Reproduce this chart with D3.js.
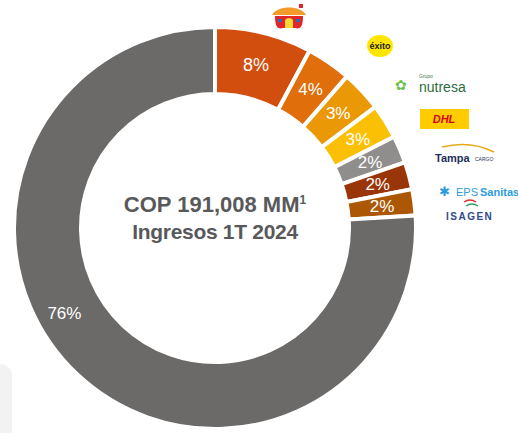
<!DOCTYPE html>
<html>
<head>
<meta charset="utf-8">
<script src="https://cdn.jsdelivr.net/npm/d3@7"></script>
<style>
  body { margin: 0; background: #fff; }
  svg { display: block; font-family: "Liberation Sans", Arial, sans-serif; }
</style>
</head>
<body>
<div id="chart"></div>
<script>
// shares (clockwise from 12 o'clock)
const clients = ["Corona", "Éxito", "Nutresa", "DHL", "Tampa Cargo", "EPS Sanitas", "Isagen", "Otros"];
const shares = [7.8, 3.6, 3.3, 2.8, 2.2, 2.2, 2.1, 76.0];
const labels = ["8%", "4%", "3%", "3%", "2%", "2%", "2%", "76%"];
const colors = ["#D24E0E", "#DF6E0B", "#EB9806", "#FBBF04", "#8F8E8D", "#9A3509", "#AC5704", "#6B6A68"];
const centerLines = ["COP 191,008 MM", "Ingresos 1T 2024"];

const width = 518, height = 433;
const cx = 215, cy = 228;
const outerR = 201, innerR = 134;

const svg = d3.select("#chart").append("svg")
  .attr("width", width)
  .attr("height", height);

// light panel peeking in at bottom left
svg.append("rect")
  .attr("x", -20).attr("y", 364)
  .attr("width", 32).attr("height", 90)
  .attr("rx", 12)
  .style("fill", "#F2F2F2");

const g = svg.append("g").attr("transform", `translate(${cx},${cy})`);

const pie = d3.pie().sort(null).value(d => d);
const arcs = pie(shares);

const arc = d3.arc().innerRadius(innerR).outerRadius(outerR);

g.selectAll("path.slice")
  .data(arcs)
  .enter()
  .append("path")
  .attr("class", "slice")
  .attr("d", arc)
  .style("fill", (d, i) => colors[i])
  .style("stroke", "#fff")
  .style("stroke-width", 4);

// labels at the middle of the ring; the big slice label sits lower-left
const labelArc = d3.arc().innerRadius(innerR + 4).outerRadius(outerR - 2);
g.selectAll("text.pct")
  .data(arcs)
  .enter()
  .append("text")
  .attr("class", "pct")
  .attr("transform", (d, i) => {
    let p;
    if (i === arcs.length - 1) {
      const a = 240.5 * Math.PI / 180;
      p = [Math.sin(a) * 173, -Math.cos(a) * 173];
    } else {
      p = labelArc.centroid(d);
    }
    return `translate(${p[0]},${p[1]})`;
  })
  .attr("text-anchor", "middle")
  .attr("dy", "0.36em")
  .style("fill", "#fff")
  .style("font-size", (d, i) => i === 0 ? "18px" : "17px")
  .text((d, i) => labels[i]);

// center text
const ct = g.append("text")
  .attr("text-anchor", "middle")
  .style("fill", "#58595B")
  .style("font-weight", "bold");
ct.append("tspan").attr("x", 0).attr("y", -16).style("font-size", "22px").text(centerLines[0])
  .append("tspan").attr("dy", -8).style("font-size", "12px").text("1");
ct.append("tspan").attr("x", 0).attr("y", 11).style("font-size", "21px")
  .style("letter-spacing", "-0.3px").text(centerLines[1]);

// client logos (simplified) along the right side
const logos = svg.append("g");

// house
const house = logos.append("g").attr("transform", "translate(289,17)");
house.append("path")
  .attr("d", "M-14,-1 C-14,12 -10,12 -6,11 L6,11 C10,12 14,12 14,-1 Z")
  .style("fill", "#E0262B");
house.append("path")
  .attr("d", "M-17,-2 C-12,-12 12,-12 17,-2 Z")
  .style("fill", "#F39A2B");
house.append("rect").attr("x", 10).attr("y", -13).attr("width", 4).attr("height", 4).style("fill", "#E0262B");
house.append("path").attr("d", "M-4,11 L-4,4 C-4,0 4,0 4,4 L4,11 Z").style("fill", "#FDD835");
house.append("rect").attr("x", -11).attr("y", 2).attr("width", 4).attr("height", 3).style("fill", "#2A6FB5");
house.append("rect").attr("x", 7).attr("y", 2).attr("width", 4).attr("height", 3).style("fill", "#2A6FB5");

// éxito
logos.append("ellipse").attr("cx", 380).attr("cy", 46).attr("rx", 13).attr("ry", 11).style("fill", "#FFE500");
logos.append("text").attr("x", 380).attr("y", 49).attr("text-anchor", "middle")
  .style("font-size", "9px").style("font-weight", "bold").style("fill", "#222").text("éxito");

// nutresa
logos.append("text").attr("x", 419).attr("y", 78).style("font-size", "5px").style("fill", "#3F7A4B").text("Grupo");
logos.append("text").attr("x", 419).attr("y", 92).style("font-size", "14px").style("fill", "#2E6B3E").text("nutresa");
logos.append("text").attr("x", 395).attr("y", 90).style("font-size", "14px").style("fill", "#6CC04A").text("✿");

// DHL
logos.append("rect").attr("x", 420).attr("y", 109).attr("width", 49).attr("height", 20).style("fill", "#FFCC00");
logos.append("text").attr("x", 444).attr("y", 123).attr("text-anchor", "middle")
  .style("font-size", "11px").style("font-weight", "bold").style("font-style", "italic").style("fill", "#D40511").text("DHL");

// Tampa Cargo
logos.append("path").attr("d", "M442,147 Q470,140 494,152").style("fill", "none").style("stroke", "#E8A81C").style("stroke-width", 1.5);
logos.append("text").attr("x", 435).attr("y", 162).style("font-size", "11px").style("font-weight", "bold").style("fill", "#1F2F5C").text("Tampa");
logos.append("text").attr("x", 475).attr("y", 161).style("font-size", "5px").style("fill", "#1F2F5C").text("CARGO");

// EPS Sanitas
logos.append("text").attr("x", 439).attr("y", 196).style("font-size", "13px").style("fill", "#2D9CDB").text("✱");
logos.append("text").attr("x", 456).attr("y", 196).style("font-size", "11px").style("fill", "#2D9CDB").text("EPS");
logos.append("text").attr("x", 480).attr("y", 196).style("font-size", "11px").style("font-weight", "bold").style("fill", "#2D9CDB").text("Sanitas");

// Isagen
logos.append("path").attr("d", "M464,202 q6,-4 12,0").style("fill", "none").style("stroke", "#D63031").style("stroke-width", 1.5);
logos.append("path").attr("d", "M466,206 q6,-4 12,0").style("fill", "none").style("stroke", "#2E9E5B").style("stroke-width", 1.5);
logos.append("text").attr("x", 446).attr("y", 220).style("font-size", "10px").style("font-weight", "bold")
  .style("letter-spacing", "1.5px").style("fill", "#2E4A8A").text("ISAGEN");
</script>
</body>
</html>
